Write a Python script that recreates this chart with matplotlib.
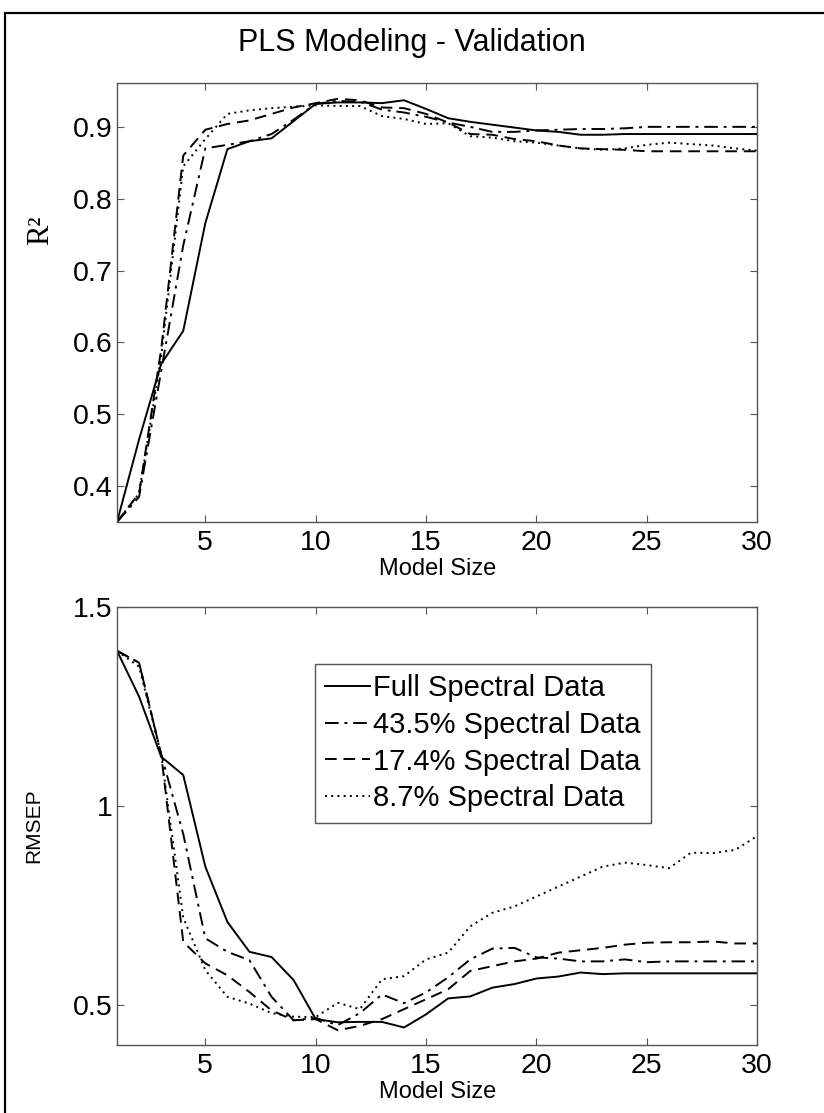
import numpy as np
import matplotlib
matplotlib.use("Agg")
import matplotlib.pyplot as plt
from matplotlib.patches import Rectangle

plt.rcParams['font.family'] = ['Liberation Sans', 'DejaVu Sans']

model_size = list(range(1, 31))

series_labels = ["Full Spectral Data", "43.5% Spectral Data",
                 "17.4% Spectral Data", "8.7% Spectral Data"]

r2_full = [0.35, 0.465, 0.57, 0.616, 0.766, 0.869, 0.88, 0.884, 0.908, 0.932,
           0.934, 0.934, 0.933, 0.937, 0.925, 0.912, 0.907, 0.903, 0.899, 0.895,
           0.893, 0.889, 0.889, 0.890, 0.890, 0.890, 0.890, 0.890, 0.890, 0.890]
r2_435 = [0.35, 0.385, 0.56, 0.735, 0.87, 0.875, 0.88, 0.89, 0.91, 0.932,
          0.936, 0.935, 0.924, 0.92, 0.914, 0.906, 0.90, 0.893, 0.893, 0.895,
          0.896, 0.897, 0.897, 0.898, 0.90, 0.90, 0.90, 0.90, 0.90, 0.90]
r2_174 = [0.35, 0.39, 0.59, 0.86, 0.896, 0.904, 0.909, 0.918, 0.927, 0.933,
          0.939, 0.937, 0.927, 0.926, 0.918, 0.906, 0.89, 0.889, 0.883, 0.88,
          0.874, 0.870, 0.869, 0.868, 0.866, 0.866, 0.866, 0.866, 0.866, 0.866]
r2_87 = [0.35, 0.39, 0.58, 0.845, 0.883, 0.918, 0.923, 0.926, 0.928, 0.93,
         0.929, 0.929, 0.915, 0.911, 0.904, 0.905, 0.887, 0.885, 0.88, 0.878,
         0.874, 0.870, 0.868, 0.87, 0.875, 0.878, 0.876, 0.874, 0.870, 0.867]

rmsep_full = [1.39, 1.275, 1.124, 1.078, 0.848, 0.709, 0.634, 0.621, 0.563, 0.465,
              0.457, 0.458, 0.458, 0.444, 0.477, 0.517, 0.522, 0.544, 0.553, 0.567,
              0.572, 0.582, 0.578, 0.58, 0.58, 0.58, 0.58, 0.58, 0.58, 0.58]
rmsep_435 = [1.39, 1.36, 1.13, 0.93, 0.668, 0.634, 0.613, 0.521, 0.462, 0.468,
             0.45, 0.48, 0.527, 0.505, 0.532, 0.57, 0.615, 0.642, 0.644, 0.62,
             0.617, 0.61, 0.61, 0.615, 0.608, 0.61, 0.61, 0.61, 0.61, 0.61]
rmsep_174 = [1.39, 1.36, 1.13, 0.659, 0.605, 0.575, 0.533, 0.487, 0.462, 0.465,
             0.437, 0.448, 0.465, 0.49, 0.515, 0.54, 0.586, 0.598, 0.61, 0.617,
             0.632, 0.638, 0.644, 0.652, 0.657, 0.658, 0.658, 0.66, 0.655, 0.655]
rmsep_87 = [1.39, 1.35, 1.13, 0.72, 0.588, 0.521, 0.504, 0.48, 0.471, 0.47,
            0.506, 0.49, 0.565, 0.573, 0.615, 0.632, 0.698, 0.732, 0.748, 0.773,
            0.798, 0.823, 0.848, 0.858, 0.852, 0.844, 0.883, 0.882, 0.89, 0.925]

r2_ticks = [0.4, 0.5, 0.6, 0.7, 0.8, 0.9]
rmsep_ticks = [0.5, 1.0, 1.5]
rmsep_ticklabels = ["0.5", "1", "1.5"]
x_ticks = [5, 10, 15, 20, 25, 30]

styles = ['-', (0, (7, 3, 1.5, 3)), (0, (6, 3.5)), (0, (1, 2.2))]
widths = [1.4, 1.4, 1.4, 1.4]

fig = plt.figure(figsize=(8.24, 11.13), dpi=100)

# outer frame (left and top edges show; the rest runs off the canvas)
fig.patches.append(Rectangle((5 / 824, -0.05), 1.1, 1 - 13 / 1113 + 0.05,
                             transform=fig.transFigure, fill=False,
                             edgecolor='black', linewidth=1.6))

ax1 = fig.add_axes([0.142, 0.531, 0.777, 0.3944])
ax2 = fig.add_axes([0.142, 0.0611, 0.777, 0.3935])

spine_color = '#555555'

def style_axes(ax):
    for s in ax.spines.values():
        s.set_color(spine_color)
        s.set_linewidth(1.0)
    ax.tick_params(direction='in', top=True, right=True, length=5,
                   width=0.8, color=spine_color, labelsize=20.5)
    ax.tick_params(axis='x', pad=6)
    ax.tick_params(axis='y', pad=3.5)
    ax.set_xlim(1, 30)
    ax.set_xticks(x_ticks)

r2_data = [r2_full, r2_435, r2_174, r2_87]
for ys, ls, lw in zip(r2_data, styles, widths):
    ax1.plot(model_size, ys, color='black', linestyle=ls, linewidth=lw)
style_axes(ax1)
ax1.set_ylim(0.35, 0.961)
ax1.set_yticks(r2_ticks)
ax1.set_yticklabels([f"{t:.1f}" for t in r2_ticks])
ax1.set_xlabel("Model Size", fontsize=17, labelpad=1)
ax1.set_ylabel("R²", fontsize=22, family=['Liberation Serif', 'DejaVu Serif'])
ax1.yaxis.set_label_coords(-0.097, 0.665)

fig.text(0.5, 1 - 43 / 1113, "PLS Modeling - Validation", fontsize=22,
         ha='center', va='center')

rmsep_data = [rmsep_full, rmsep_435, rmsep_174, rmsep_87]
for ys, ls, lw, lab in zip(rmsep_data, styles, widths, series_labels):
    ax2.plot(model_size, ys, color='black', linestyle=ls, linewidth=lw, label=lab)
style_axes(ax2)
ax2.set_ylim(0.4, 1.5)
ax2.set_yticks(rmsep_ticks)
ax2.set_yticklabels(rmsep_ticklabels)
ax2.set_xlabel("Model Size", fontsize=17, labelpad=1)
ax2.set_ylabel("RMSEP", fontsize=15)
ax2.yaxis.set_label_coords(-0.115, 0.5)

leg = ax2.legend(loc='upper left', bbox_to_anchor=(0.309, 0.87), fontsize=21,
                 handlelength=1.55, handletextpad=0.1, borderpad=0.35,
                 labelspacing=0.3, borderaxespad=0, fancybox=False,
                 framealpha=1)
leg.get_frame().set_edgecolor(spine_color)
leg.get_frame().set_linewidth(1.0)

fig.savefig("out.png", dpi=100)
